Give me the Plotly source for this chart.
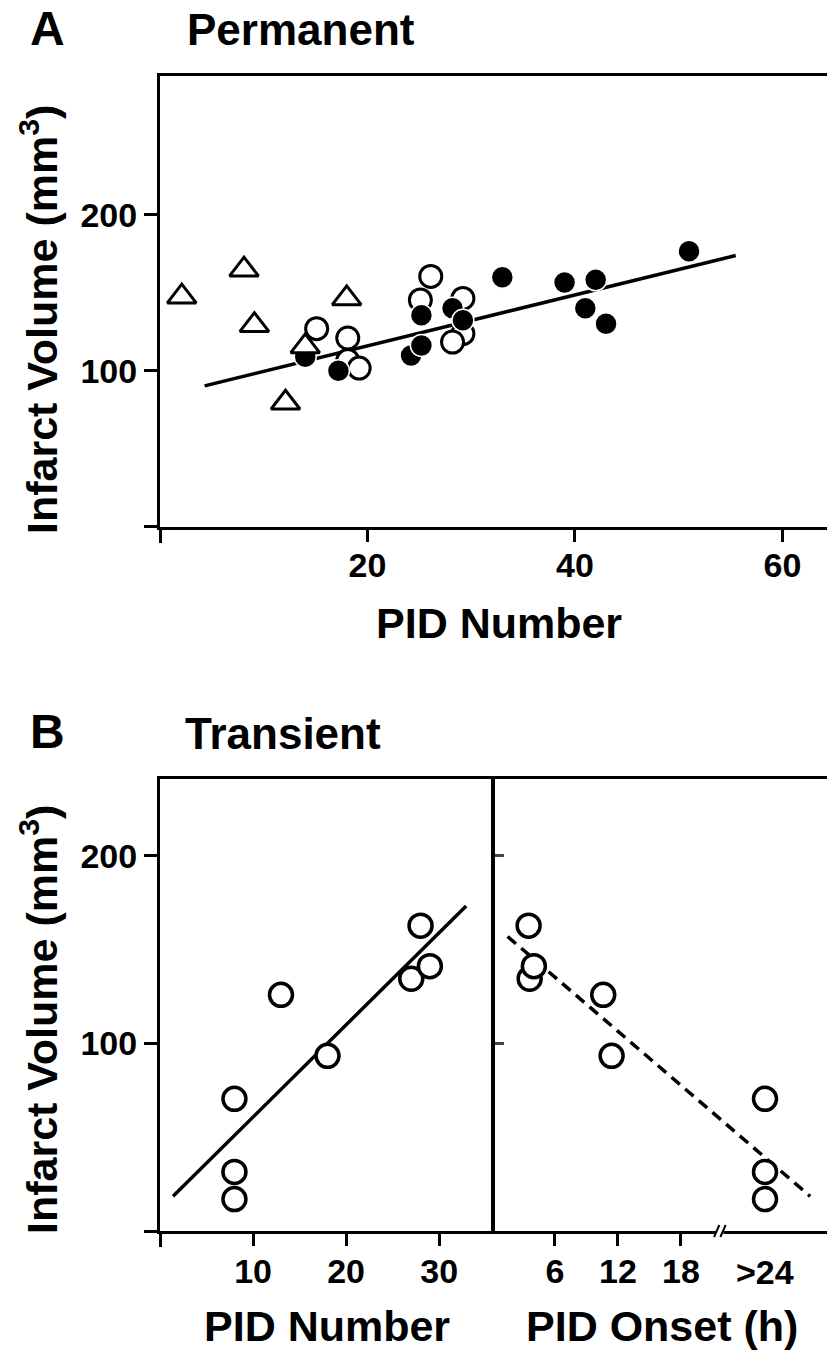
import plotly.graph_objects as go

W, H = 827, 1353
FONT = "Liberation Sans"

# ---------------- Panel A (Permanent) ----------------
a_tri_x = [2.1, 8.1, 9.1, 18.0, 14.0, 12.1]
a_tri_y = [147.5, 164.8, 129.2, 146.4, 115.6, 79.5]

a_open_x = [15.1, 18.1, 18.1, 19.2, 26.1, 25.1, 29.2, 29.2, 28.2]
a_open_y = [127.0, 121.0, 106.5, 101.7, 160.5, 145.4, 146.4, 123.8, 118.4]

a_fill_x = [17.2, 14.0, 24.2, 25.2, 25.2, 28.2, 29.2, 33.0, 39.0, 42.0, 41.0, 43.0, 51.0]
a_fill_y = [100.0, 109.0, 109.7, 116.2, 135.6, 140.0, 132.4, 160.0, 156.6, 158.3, 140.0, 130.2, 176.7]

a_fit_x = [4.3, 55.5]
a_fit_y = [90.3, 173.9]

a_xticks = [20, 40, 60]
a_xticktext = ["20", "40", "60"]
yticks = [100, 200]
yticktext = ["100", "200"]
origin_tick = [0]

# ---------------- Panel B (Transient) ----------------
b_num_x = [8, 8, 8, 13, 18, 28, 27, 29]
b_vol_y = [70.5, 31.5, 17.0, 125.9, 93.4, 162.8, 134.5, 141.2]
b_onset_x = [26, 26, 26, 10.6, 11.4, 3.5, 3.6, 4.0]

b_fit_num_x = [1.4, 32.9]
b_fit_num_y = [18.5, 173.3]
b_fit_onset_x = [1.5, 30.3]
b_fit_onset_y = [157.0, 18.5]

b_num_ticks = [10, 20, 30]
b_num_ticktext = ["10", "20", "30"]
b_onset_ticks = [6, 12, 18]
b_onset_ticktext = ["6", "12", "18"]
b_onset_late_label = ">24"
b_onset_late_pos = 26
b_break_pos = 21.7


def px_x(p):
    return p / W


def px_y(p):
    return 1 - p / H


fig = go.Figure()

# Panel A traces
fig.add_trace(go.Scatter(x=a_fit_x, y=a_fit_y, mode="lines",
                         line=dict(color="black", width=3.5), xaxis="x", yaxis="y"))
fig.add_trace(go.Scatter(x=a_open_x, y=a_open_y, mode="markers",
                         marker=dict(symbol="circle", size=22, color="white",
                                     line=dict(color="black", width=3)),
                         xaxis="x", yaxis="y"))
fig.add_trace(go.Scatter(x=a_fill_x, y=a_fill_y, mode="markers",
                         marker=dict(symbol="circle", size=22, color="black",
                                     line=dict(color="white", width=1.5)),
                         xaxis="x", yaxis="y"))
fig.add_trace(go.Scatter(x=a_tri_x, y=a_tri_y, mode="markers",
                         marker=dict(symbol="triangle-up", size=25, color="white",
                                     line=dict(color="black", width=3)),
                         xaxis="x", yaxis="y"))

# Panel B left
fig.add_trace(go.Scatter(x=b_fit_num_x, y=b_fit_num_y, mode="lines",
                         line=dict(color="black", width=3.5), xaxis="x2", yaxis="y2"))
fig.add_trace(go.Scatter(x=b_num_x, y=b_vol_y, mode="markers",
                         marker=dict(symbol="circle", size=23, color="white",
                                     line=dict(color="black", width=3.5)),
                         xaxis="x2", yaxis="y2"))

# Panel B right
fig.add_trace(go.Scatter(x=b_fit_onset_x, y=b_fit_onset_y, mode="lines",
                         line=dict(color="black", width=3.5, dash="11px,7px"),
                         xaxis="x3", yaxis="y3"))
fig.add_trace(go.Scatter(x=b_onset_x, y=b_vol_y, mode="markers",
                         marker=dict(symbol="circle", size=23, color="white",
                                     line=dict(color="black", width=3.5)),
                         xaxis="x3", yaxis="y3"))

tickfont = dict(family=FONT, size=34, color="black", weight="bold")
axis_common = dict(showline=True, linewidth=3, linecolor="black", showgrid=False,
                   zeroline=False, ticks="outside", tickwidth=3, tickcolor="black",
                   tickfont=tickfont, automargin=False, fixedrange=True)
origin_minor = dict(tickmode="array", tickvals=origin_tick, ticks="outside",
                    ticklen=13, tickwidth=3, tickcolor="black", showgrid=False)

A_top, A_bot = 76, 526.7
B_top, B_bot = 779, 1231
L, DIV = 160, 495

fig.update_layout(
    width=W, height=H,
    margin=dict(l=0, r=0, t=0, b=0),
    paper_bgcolor="white", plot_bgcolor="white",
    showlegend=False,
    xaxis=dict(domain=[px_x(L), 1], range=[0, 64.3], tickvals=a_xticks,
               ticktext=a_xticktext, ticklen=12, mirror=True, anchor="y",
               ticklabelstandoff=-6, minor=origin_minor, **axis_common),
    yaxis=dict(domain=[px_y(A_bot), px_y(A_top)], range=[0, 289], tickvals=yticks,
               ticktext=yticktext, ticklen=13, anchor="x", minor=origin_minor,
               **axis_common),
    xaxis2=dict(domain=[px_x(L), px_x(DIV)], range=[0, 36], tickvals=b_num_ticks,
                ticktext=b_num_ticktext, ticklen=12, mirror=True, anchor="y2",
                ticklabelstandoff=-4, minor=origin_minor, **axis_common),
    yaxis2=dict(domain=[px_y(B_bot), px_y(B_top)], range=[0, 241], tickvals=yticks,
                ticktext=yticktext, ticklen=13, anchor="x2", minor=origin_minor,
                **axis_common),
    xaxis3=dict(domain=[px_x(DIV), 1], range=[0.3, 31.9], tickvals=b_onset_ticks,
                ticktext=b_onset_ticktext, ticklen=12, mirror=True, anchor="y3",
                ticklabelstandoff=-4, **axis_common),
    yaxis3=dict(domain=[px_y(B_bot), px_y(B_top)], range=[0, 241], anchor="x3",
                showline=True, linewidth=3.5, linecolor="black", showgrid=False,
                zeroline=False, ticks="inside", ticklen=9, tickwidth=3,
                tickvals=yticks, showticklabels=False, automargin=False),
)

ann_font_big = dict(family=FONT, size=44, color="black", weight="bold")
ann_font_title = dict(family=FONT, size=43, color="black", weight="bold")
annotations = [
    dict(text="A", x=px_x(47), y=px_y(28), xanchor="center", yanchor="middle",
         font=dict(family=FONT, size=48, color="black", weight="bold")),
    dict(text="Permanent", x=px_x(185), y=px_y(29), xanchor="left", yanchor="middle",
         font=ann_font_big),
    dict(text="B", x=px_x(47), y=px_y(731), xanchor="center", yanchor="middle",
         font=dict(family=FONT, size=48, color="black", weight="bold")),
    dict(text="Transient", x=px_x(183), y=px_y(733), xanchor="left", yanchor="middle",
         font=ann_font_big),
    dict(text="PID Number", x=px_x(499), y=px_y(623), xanchor="center", yanchor="middle",
         font=ann_font_title),
    dict(text="PID Number", x=px_x(327), y=px_y(1326), xanchor="center", yanchor="middle",
         font=ann_font_title),
    dict(text="PID Onset (h)", x=px_x(662), y=px_y(1326), xanchor="center", yanchor="middle",
         font=ann_font_title),
    dict(text="Infarct Volume (mm<sup>3</sup>)", x=px_x(39), y=px_y(320), textangle=-90,
         xanchor="center", yanchor="middle", font=ann_font_title),
    dict(text="Infarct Volume (mm<sup>3</sup>)", x=px_x(39), y=px_y(1020), textangle=-90,
         xanchor="center", yanchor="middle", font=ann_font_title),
    dict(text=b_onset_late_label, x=b_onset_late_pos, xref="x3", y=px_y(1272),
         xanchor="center", yanchor="middle", font=tickfont),
]
for a in annotations:
    a.setdefault("xref", "paper")
    a.setdefault("yref", "paper")
    a["showarrow"] = False
fig.update_layout(annotations=annotations)

# axis break marks on the onset axis
yb = px_y(B_bot)
dy = 6 / H
fig.add_shape(type="rect", xref="x3", yref="paper", x0=b_break_pos - 0.35, x1=b_break_pos + 0.35,
              y0=yb - 3 / H, y1=yb + 3 / H, fillcolor="white", line=dict(width=0))
for off in (-0.3, 0.3):
    fig.add_shape(type="line", xref="x3", yref="paper",
                  x0=b_break_pos + off - 0.25, x1=b_break_pos + off + 0.25,
                  y0=yb - dy, y1=yb + dy, line=dict(color="black", width=2))

fig.write_html("out.html")
